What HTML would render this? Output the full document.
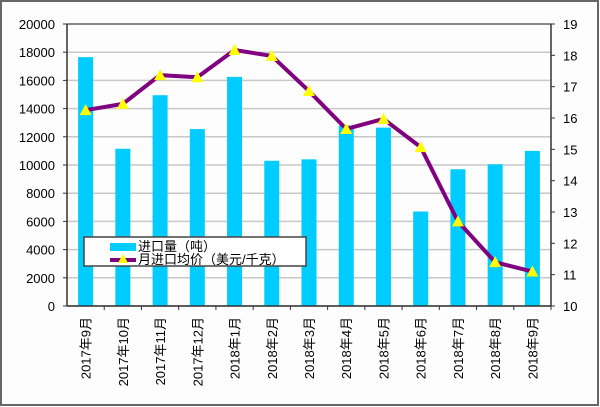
<!DOCTYPE html>
<html><head><meta charset="utf-8"><style>
body{margin:0;background:#fff}
svg{display:block;font-family:"Liberation Sans","Noto Sans CJK SC",sans-serif}
</style></head><body>
<svg id="c" width="600" height="407" viewBox="0 0 600 407">
<rect x="1" y="1" width="597" height="404" fill="#fdfdfd" stroke="#666" stroke-width="2"/>
<g id="grid"></g><g id="bars"></g><g id="line"></g><g id="axes"></g>
<g>
<rect x="84" y="237" width="222" height="29" fill="#fff" stroke="#444" stroke-width="1.5"/>
<rect x="110" y="243" width="26" height="8" fill="#00ccff"/>
<text x="138" y="251" font-size="13">进口量（吨）</text>
<line x1="110" y1="260" x2="136" y2="260" stroke="#800080" stroke-width="4"/>
<polygon points="123,254 118,263 128,263" fill="#ffff00"/>
<text x="138" y="264" font-size="13">月进口均价（美元/千克）</text>
</g>
</svg>
<script>
const categories=["2017年9月","2017年10月","2017年11月","2017年12月","2018年1月","2018年2月","2018年3月","2018年4月","2018年5月","2018年6月","2018年7月","2018年8月","2018年9月"];
const volumes=[17650,11150,14950,12550,16250,10300,10400,12800,12650,6700,9700,10050,11000];
const prices=[16.25,16.45,17.37,17.3,18.17,17.98,16.86,15.65,15.97,15.07,12.7,11.4,11.1];
const leftTicks=[0,2000,4000,6000,8000,10000,12000,14000,16000,18000,20000];
const rightTicks=[10,11,12,13,14,15,16,17,18,19];
const NS="http://www.w3.org/2000/svg";
const X0=67,X1=551,Y0=306,Y1=24;
const step=(X1-X0)/categories.length;
const xc=i=>X0+step*(i+0.5);
const yL=v=>Y0-(v/20000)*(Y0-Y1);
const yR=v=>Y0-((v-10)/9)*(Y0-Y1);
function mk(tag,attrs,parent){const e=document.createElementNS(NS,tag);for(const k in attrs)e.setAttribute(k,attrs[k]);parent.appendChild(e);return e;}
const grid=document.getElementById('grid'),bars=document.getElementById('bars'),line=document.getElementById('line'),axes=document.getElementById('axes');
leftTicks.forEach(t=>{
 const g=mk('line',{x1:X0,x2:X1,y1:yL(t),y2:yL(t),stroke:t===20000?'#888':'#c8c8c8','stroke-width':t===20000?2:1.5},grid);
 
 
 const tx=mk('text',{x:X0-12,y:yL(t)+5,'text-anchor':'end','font-size':13},axes);
 tx.textContent=t;
 
 
 mk('line',{x1:X0-4,x2:X0,y1:yL(t),y2:yL(t),stroke:'#333'},axes);
});
rightTicks.forEach(t=>{
 const tx=mk('text',{x:X1+12,y:yR(t)+5,'font-size':13},axes);
 tx.textContent=t;
 
 
 mk('line',{x1:X1,x2:X1+4,y1:yR(t),y2:yR(t),stroke:'#333'},axes);
});
mk('line',{x1:X0,x2:X0,y1:Y1,y2:Y0,stroke:'#333','stroke-width':1.5},axes);
mk('line',{x1:X1,x2:X1,y1:Y1,y2:Y0,stroke:'#333','stroke-width':1.5},axes);
mk('line',{x1:X0,x2:X1,y1:Y0,y2:Y0,stroke:'#333','stroke-width':1.5},axes);
categories.forEach((c,i)=>{
 const b=mk('rect',{x:xc(i)-7.5,y:yL(volumes[i]),width:15,height:Y0-yL(volumes[i]),fill:'#00ccff'},bars);
 
 
 mk('line',{x1:X0+step*(i+1),x2:X0+step*(i+1),y1:Y0,y2:Y0+4,stroke:'#333'},axes);
 const t=mk('text',{transform:`translate(${xc(i)+5},317) rotate(-90)`,'text-anchor':'end','font-size':13},axes);
 t.textContent=c;
 
 
});
const pl=mk('polyline',{points:prices.map((p,i)=>xc(i)+','+yR(p)).join(' '),fill:'none',stroke:'#800080','stroke-width':4,'stroke-linejoin':'round'},line);


prices.forEach((p,i)=>{
 const x=xc(i),y=yR(p);
 const m=mk('polygon',{points:`${x},${y-6} ${x-6},${y+5} ${x+6},${y+5}`,fill:'#ffff00'},line);
 
 
});
</script>
</body></html>
